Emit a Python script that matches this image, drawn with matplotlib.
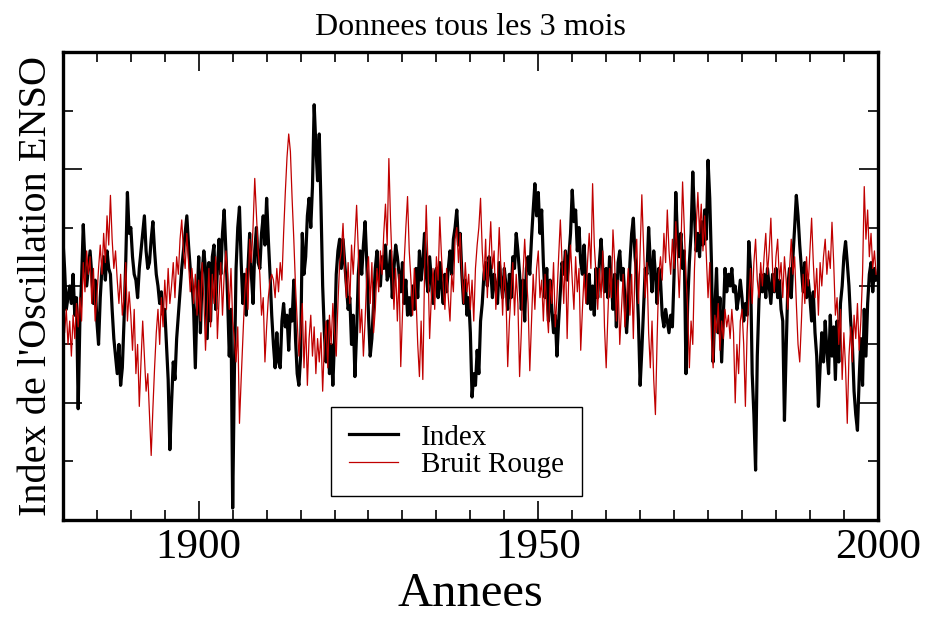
import numpy as np
import matplotlib.pyplot as plt
from matplotlib.ticker import MultipleLocator

plt.rcParams["font.family"] = ["Liberation Serif", "DejaVu Serif"]

# quarterly values, one row per year, 1880 -> 1999
index_rows = [
    [0.8, 0.3, -0.4, -0.2], [0.0, -0.3, 0.2, -0.5], [-0.2, -2.1, -0.6, 0.1], [1.05, 0.4, 0.0, 0.3],
    [0.6, 0.2, -0.3, 0.1], [-0.6, -1.0, -0.2, 0.3], [0.5, 0.1, 0.6, 0.3], [0.2, -0.4, -0.9, -1.2],
    [-1.5, -1.0, -1.7, -1.4], [-0.6, 0.4, 1.6, 0.9], [1.0, 0.5, 0.2, 0.1], [-0.2, 0.3, 0.6, 0.9],
    [1.2, 0.6, 0.3, 0.4], [0.8, 1.1, 0.6, 0.2], [0.0, -0.3, -0.1, -0.5], [-0.4, -1.0, -1.6, -2.8],
    [-2.0, -1.3, -1.6, -0.9], [-0.5, -0.1, 0.3, 0.6], [0.9, 1.2, 0.7, 0.3], [0.1, -0.4, -1.4, -0.3],
    # 1900
    [0.5, -0.8, 0.2, 0.6], [0.3, -0.9, 0.4, -0.6], [0.5, 0.7, -0.4, 0.3], [0.8, 0.2, 0.9, 1.3],
    [0.6, -0.2, -1.2, -0.4], [-3.8, -1.5, 0.3, 1.0], [1.35, 0.4, -0.3, 0.2], [-0.5, 0.3, 0.9, 0.2],
    [-0.3, 0.6, 1.0, 0.4], [0.3, 0.9, 1.2, 0.7], [1.5, 0.8, 0.2, -0.5], [-1.0, -1.4, -0.8, -1.3],
    [-1.4, -0.6, -0.3, -0.7], [-0.5, -1.1, -0.4, -0.6], [0.1, -0.9, -1.5, -1.7], [-1.2, 0.9, 0.2, 0.5],
    [1.2, 1.5, 1.0, 1.7], [3.1, 2.4, 1.8, 2.6], [1.4, 0.0, -0.8, -1.3], [-0.6, -1.5, -1.0, -1.7],
    # 1920
    [-0.9, 0.2, 0.6, 0.8], [0.3, 0.8, 0.4, 0.0], [-0.4, -0.2, -1.0, -0.5], [-1.55, -0.8, 0.2, 0.6],
    [0.2, 0.7, 1.1, 0.4], [-0.5, -1.2, -0.9, -0.3], [0.3, 0.6, 0.2, 0.0], [0.5, 0.3, 0.7, 0.1],
    [0.2, 0.6, -0.2, 0.3], [0.7, 0.5, 0.2, -0.1], [0.4, -0.3, 0.1, -0.5], [-0.2, -0.5, 0.0, -0.4],
    [0.3, -0.2, 0.6, 0.1], [0.4, 0.9, 0.2, -0.1], [0.5, 0.1, -0.3, 0.2], [0.3, -0.2, 0.4, 0.0],
    [-0.3, 0.2, -0.1, 0.3], [0.6, 0.2, 0.8, 1.0], [1.3, 0.7, 0.9, 0.2], [-0.3, 0.1, -0.5, -0.2],
    # 1940
    [-0.8, -1.9, -1.5, -1.7], [-1.1, -1.5, -0.6, -0.3], [0.2, 0.4, 0.0, 0.5], [0.3, -0.2, 0.2, 0.0],
    [-0.3, 0.4, 0.1, -0.2], [0.3, 0.0, -0.4, 0.2], [-0.2, 0.5, 0.3, 0.9], [0.6, 0.2, -0.4, 0.1],
    [-0.6, 0.3, 0.5, 0.2], [0.8, 1.3, 1.75, 1.2], [1.6, 0.9, 1.3, 0.4], [-0.2, 0.3, -0.6, 0.1],
    [-0.4, -0.8, -0.5, -1.2], [-0.6, -0.1, 0.4, 0.2], [0.6, 0.1, 0.5, 0.9], [1.64, 1.1, 1.3, 0.6],
    [1.0, 0.4, 0.2, 0.7], [0.1, -0.3, 0.2, -0.4], [0.0, -0.5, 0.3, -0.2], [0.4, 0.8, 0.3, -0.1],
    # 1960
    [0.3, -0.2, 0.5, 0.1], [-0.4, 0.2, -0.7, 0.4], [0.6, 0.1, 0.3, -0.2], [-0.8, -0.3, 0.4, 0.9],
    [1.16, 0.5, 0.2, -0.6], [-1.7, -1.1, -0.4, 0.3], [0.2, 1.0, 0.4, -0.1], [0.6, 0.2, -0.3, 0.3],
    [0.1, -0.5, -0.7, -0.4], [-0.6, -0.8, -0.5, -0.7], [0.2, 1.6, 0.8, 0.5], [0.9, 0.3, 0.6, -1.5],
    [-0.3, 0.4, 0.9, 1.95], [1.2, 0.6, 0.9, 0.5], [1.1, 0.7, 1.3, 0.8], [2.15, 1.5, 0.4, -1.3],
    [-0.4, 0.3, -0.8, -0.2], [-1.3, -0.5, 0.3, -0.1], [0.2, 0.0, 0.3, -0.1], [0.0, -0.4, -0.2, 0.1],
    # 1980
    [-0.2, -0.6, -0.3, -0.5], [0.76, 0.3, -1.5, -2.2], [-3.15, -1.2, -0.25, 0.2], [-0.1, 0.2, -0.2, 0.3],
    [0.0, -0.3, 0.2, -0.1], [0.3, -0.2, 0.1, -0.4], [-0.6, -2.3, -1.1, 0.0], [0.3, -0.2, 0.5, 1.0],
    [1.55, 1.2, 0.7, 0.3], [-0.1, 0.4, -0.2, 0.1], [-0.2, -0.6, -0.1, -0.8], [-1.2, -2.06, -1.4, -0.8],
    [-1.3, -0.6, -1.1, -1.5], [-0.5, -1.2, -0.7, -1.6], [-0.6, -1.3, -0.3, 0.0], [0.5, 0.76, 0.4, 0.0],
    [-0.6, -1.0, -1.8, -2.2], [-2.47, -1.6, -0.9, -1.7], [-0.4, -1.2, -0.3, 0.2], [0.4, -0.1, 0.3, 0.1],
]

bruit_rows = [
    [-0.2, -0.8, -0.4, -1.0], [-0.6, -1.2, -0.5, -0.9], [-0.3, -0.7, -0.2, -0.6], [0.4, -0.1, 0.6, 0.2],
    [0.5, -0.3, 0.3, -0.6], [-0.2, 0.3, 0.7, 0.2], [0.9, 0.4, 1.2, 0.7], [1.55, 0.8, 0.3, 0.6],
    [0.1, -0.3, 0.2, -0.5], [-0.2, 0.4, -0.6, -0.1], [-0.5, -1.1, -0.4, -1.5], [-1.0, -2.06, -1.3, -0.6],
    [-1.2, -1.8, -1.5, -2.2], [-2.9, -2.1, -1.4, -0.8], [-0.4, -1.0, -0.2, -0.7], [0.1, -0.4, 0.3, -0.3],
    [0.0, 0.4, -0.2, 0.5], [0.2, 0.8, 1.13, 0.6], [0.3, 0.9, 0.4, -0.1], [0.3, -0.3, 0.2, -0.5],
    # 1900
    [0.1, -0.6, 0.4, -0.2], [-1.1, -0.4, 0.3, -0.7], [0.2, -0.3, 0.5, -0.9], [-0.2, 0.4, -0.5, 0.2],
    [0.6, 0.2, -0.4, 0.3], [-0.6, -0.9, -1.3, -0.7], [-2.35, -1.6, -0.9, -0.2], [0.3, -0.4, 0.8, 0.4],
    [1.0, 1.84, 1.2, 0.6], [0.2, -0.5, -0.2, -1.3], [-0.7, -0.2, 0.1, 0.2], [0.1, -0.2, 0.3, -0.1],
    [0.4, 0.1, 0.9, 1.6], [2.2, 2.6, 2.3, 1.5], [0.8, 0.0, -0.6, -1.2], [-0.8, -0.3, -1.4, -0.6],
    [-1.7, -0.9, -0.5, -1.2], [-0.7, -1.5, -0.9, -1.3], [-0.8, -1.8, -1.0, -0.6], [-1.4, -0.5, -1.0, -0.3],
    # 1920
    [-0.8, -1.2, -0.3, 0.4], [0.6, 1.07, 0.3, -0.2], [0.4, -0.3, 0.7, 0.2], [0.8, 1.38, 0.6, -0.8],
    [-0.4, -1.2, -0.6, 0.2], [0.5, -0.3, 0.4, -0.8], [-0.4, 0.3, -0.1, 0.6], [0.2, 0.9, 1.4, 0.7],
    [2.18, 1.1, 0.3, -0.4], [0.3, -0.6, 0.2, -1.38], [-0.5, 0.4, 1.0, 1.53], [0.6, 0.1, -0.5, 0.3],
    [-0.2, -1.0, -1.55, -0.6], [-1.6, 0.2, 1.38, 0.4], [-0.9, -0.2, 0.3, -0.4], [0.5, 0.1, 1.18, 0.5],
    [0.0, -0.4, 0.3, -0.2], [-0.6, 0.2, -0.1, 0.8], [1.0, 0.4, 0.9, 0.2], [-0.3, 0.4, -0.1, 0.2],
    # 1940
    [-0.4, 0.1, -0.6, 0.3], [0.7, 1.0, 1.5, 0.6], [0.1, 0.8, -0.2, 0.5], [1.1, 0.3, 0.6, -0.4],
    [0.2, 1.0, 0.3, -0.5], [0.4, -0.2, -1.38, -0.6], [-0.1, 0.4, -0.5, 0.2], [-0.3, -1.55, -0.8, 0.2],
    [0.8, 0.2, -0.3, -1.45], [-0.6, 0.2, -0.4, 0.3], [0.6, -0.2, 0.1, -0.6], [0.2, -0.4, -0.8, 0.1],
    [-0.3, 0.4, -0.7, -0.2], [0.5, 1.13, 0.4, -0.3], [0.6, -0.9, 0.2, 0.7], [0.1, -0.4, 0.5, -0.1],
    [0.3, -1.1, -0.4, 0.2], [-0.3, 0.4, 0.9, 0.3], [1.75, 0.7, 0.2, -0.4], [0.3, -0.2, 0.6, -0.7],
    # 1960
    [-1.4, -0.5, 0.3, -0.2], [0.96, 0.4, -0.6, 0.1], [-1.0, -0.4, 0.2, -0.7], [-0.2, 0.3, -0.5, 0.2],
    [-0.9, 0.4, 0.8, -0.3], [0.6, 1.56, 0.7, -0.2], [0.4, -0.8, -1.4, -0.6], [-1.6, -2.2, -0.9, 0.2],
    [0.5, 0.1, 0.9, 0.4], [1.3, 0.6, 0.2, 0.8], [0.3, 1.1, 0.5, -0.2], [0.6, 1.78, 1.0, 0.2],
    [-0.4, -1.4, -0.6, -1.0], [0.3, 1.0, 1.6, 0.9], [1.4, 0.6, 1.2, 0.5], [-0.2, 0.4, -0.9, -1.4],
    [-0.5, -0.8, -0.3, -1.1], [-0.6, -0.9, -0.4, -0.7], [-0.5, -0.9, -0.4, -0.8], [-2.0, -1.0, -1.5, -0.6],
    # 1980
    [-0.4, -1.0, -2.06, -0.8], [-0.2, 0.3, -0.3, 0.4], [0.8, 0.1, -0.2, 0.4], [0.0, 0.5, 0.9, 0.2],
    [0.6, 1.16, 0.3, -0.1], [0.5, 0.8, 0.1, 0.4], [-0.2, 0.5, 0.1, -0.4], [0.3, 0.8, 0.2, 0.5],
    [-0.3, -1.0, -1.3, -0.6], [0.2, -0.3, 0.5, 0.0], [0.6, 1.16, 0.4, -0.2], [0.3, -0.5, 0.4, 0.0],
    [0.5, 0.8, 0.2, 0.6], [0.3, 1.09, 0.4, -0.5], [-0.2, -1.0, -0.4, -1.6], [-0.8, -1.4, -2.35, -1.2],
    [-0.7, -1.3, -0.5, -0.9], [-0.3, -1.1, -0.6, 0.2], [1.7, 0.8, 1.3, 0.5], [0.9, 0.3, 0.6, 0.2],
]

index_vals = np.array(index_rows).ravel()
bruit_vals = np.array(bruit_rows).ravel()
years = 1880 + np.arange(len(index_vals)) / 4.0

fig = plt.figure(figsize=(9.25, 6.21), dpi=100)
ax = fig.add_axes([0.068, 0.163, 0.881, 0.753])

ax.plot(years, index_vals, color='black', lw=2.3, label='Index')
ax.plot(years, bruit_vals, color='#c00000', lw=0.9, label='Bruit Rouge')

ax.set_xlim(1880, 2000)
ax.set_ylim(-4, 4)
ax.xaxis.set_major_locator(MultipleLocator(50))
ax.xaxis.set_minor_locator(MultipleLocator(5))
ax.yaxis.set_major_locator(MultipleLocator(2))
ax.yaxis.set_minor_locator(MultipleLocator(1))
ax.tick_params(which='both', direction='in', top=True, right=True, width=1.2)
ax.tick_params(which='major', length=14)
ax.tick_params(which='minor', length=7)
ax.tick_params(axis='x', labelsize=31, pad=6)
ax.set_yticklabels([])
for s in ax.spines.values():
    s.set_linewidth(2.4)

ax.set_title('Donnees tous les 3 mois', fontsize=23, pad=12)
ax.set_xlabel('Annees', fontsize=35, labelpad=4)
ax.set_ylabel("Index de l'Oscillation ENSO", fontsize=29, labelpad=2)

leg = ax.legend(loc='lower left', bbox_to_anchor=(0.329, 0.051), borderaxespad=0,
                fontsize=21, fancybox=False, framealpha=1, edgecolor='black',
                borderpad=0.6, handlelength=1.7, handletextpad=0.8, labelspacing=0.05)
leg.get_frame().set_linewidth(1.0)

plt.savefig('out.png', dpi=100)
